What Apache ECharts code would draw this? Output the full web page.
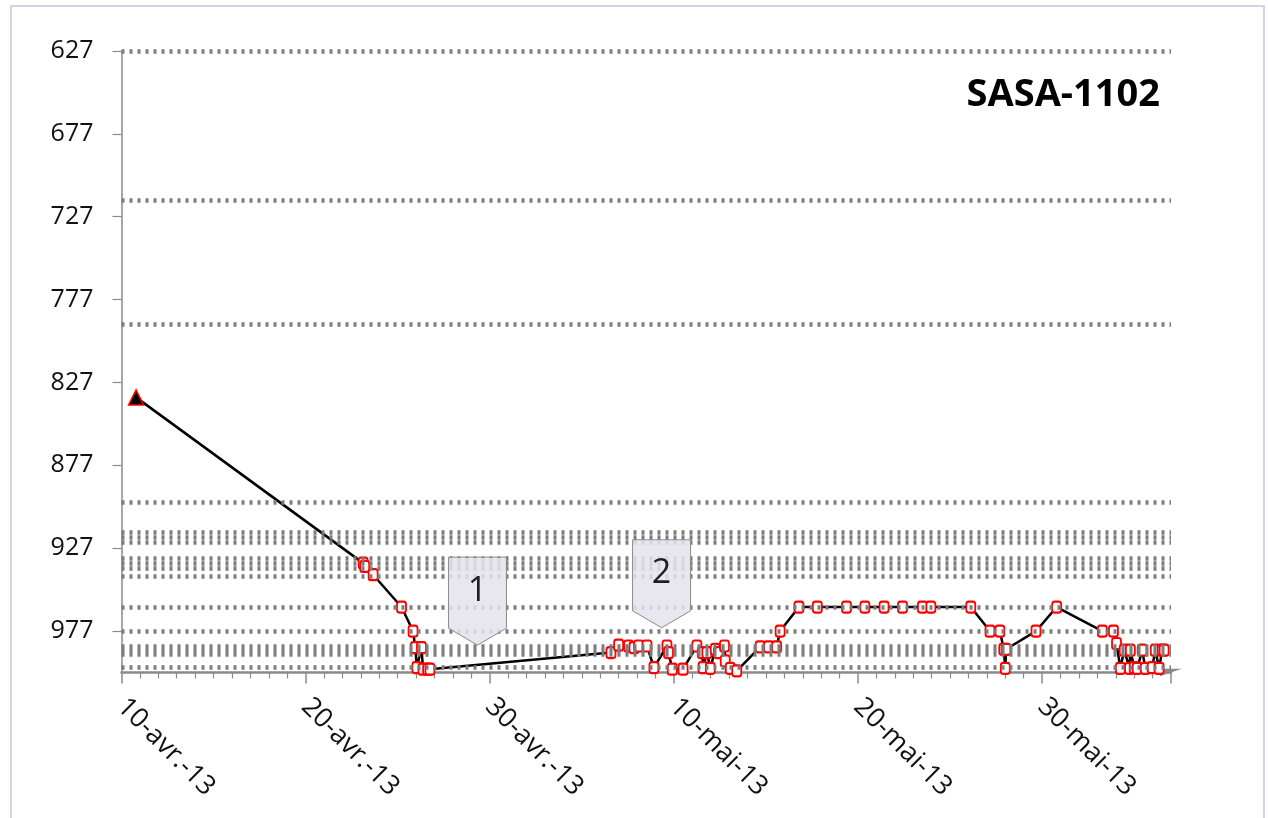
<!DOCTYPE html>
<html>
<head>
<meta charset="utf-8">
<script src="https://cdn.jsdelivr.net/npm/echarts@6/dist/echarts.min.js"></script>
<style>
html,body{margin:0;padding:0;background:#fff;}
#chart{width:1268px;height:818px;}
</style>
</head>
<body>
<div id="chart"></div>
<script>
// ---- data ----
const title = 'SASA-1102';
const dates = [
 '2013-04-10 19:00','2013-04-23 03:00','2013-04-23 05:00','2013-04-23 16:00','2013-04-25 05:00',
 '2013-04-25 20:00','2013-04-25 23:00','2013-04-26 01:00','2013-04-26 07:00','2013-04-26 09:00',
 '2013-04-26 15:00','2013-04-26 18:00',
 '2013-05-06 14:00','2013-05-07 00:00','2013-05-07 13:00','2013-05-07 20:00','2013-05-08 02:00',
 '2013-05-08 13:00','2013-05-08 22:00','2013-05-09 15:00','2013-05-09 17:00','2013-05-09 22:00',
 '2013-05-10 12:00','2013-05-11 06:00','2013-05-11 13:00','2013-05-11 14:00','2013-05-11 19:00',
 '2013-05-11 23:30','2013-05-12 06:00','2013-05-12 10:00','2013-05-12 18:00','2013-05-12 19:00',
 '2013-05-13 01:30','2013-05-13 10:00',
 '2013-05-14 16:30','2013-05-15 03:30','2013-05-15 14:00','2013-05-15 18:30','2013-05-16 19:00',
 '2013-05-17 19:00','2013-05-19 09:00','2013-05-20 09:00','2013-05-21 10:00','2013-05-22 10:00',
 '2013-05-23 12:00','2013-05-23 23:00','2013-05-26 03:00','2013-05-27 04:00','2013-05-27 17:00',
 '2013-05-27 22:00','2013-05-28 00:00','2013-05-28 01:00','2013-05-29 16:00','2013-05-30 19:00',
 '2013-06-02 06:30','2013-06-02 21:00','2013-06-03 01:00','2013-06-03 06:00','2013-06-03 11:00',
 '2013-06-03 18:00','2013-06-03 19:00','2013-06-04 00:00','2013-06-04 04:00','2013-06-04 10:30',
 '2013-06-04 14:30','2013-06-04 23:30','2013-06-05 03:30','2013-06-05 08:30','2013-06-05 12:30',
 '2013-06-05 15:00'
];
const values = [
 836, 936, 938, 943, 962.5,
 977, 987, 999, 987, 1000,
 1000, 1000,
 990, 985.5, 986, 987, 986,
 986, 999, 986, 990, 1000,
 1000, 986, 990, 999, 990,
 999.5, 988, 990, 986, 995,
 999.5, 1001,
 986.5, 986.5, 986.5, 977, 962.5,
 962.5, 962.5, 962.5, 962.5, 962.5,
 962.5, 962.5, 962.5, 977, 977,
 988, 999.5, 988, 977, 962.5,
 977, 977, 984.5, 999.5, 988.5,
 999.5, 988.5, 999, 999.5, 988.5,
 999.5, 999, 988.5, 999.5, 988.5,
 988.5
];
const levels = [627, 717, 792, 899, 917.5, 920.5, 923.5, 933, 936, 939, 944, 962.5, 977, 986, 988.5, 991, 999];
const calloutLabels = ['1', '2'];
const calloutDates = ['2013-04-29 08:00', '2013-05-09 08:00'];
const calloutValues = [985.5, 975];
const xStart = '2013-04-10 00:00';
const xEnd = '2013-06-06 00:00';
const yMin = 627, yMax = 1002, yStep = 50;
const monthNames = ['janv.','févr.','mars','avr.','mai','juin','juil.','août','sept.','oct.','nov.','déc.'];

// ---- helpers ----
const DAY = 86400000;
const toTs = s => Date.parse(s.replace(' ', 'T') + ':00Z');
const fmtDate = v => {
  const d = new Date(v);
  return d.getUTCDate() + '-' + monthNames[d.getUTCMonth()] + '-' + String(d.getUTCFullYear()).slice(2);
};
const FONT = 'Open Sans';
const dotStyle = { type: [3, 5], width: 4.5, color: '#7c7c7c', opacity: 1 };

const lineData = dates.map((d, i) => {
  const item = { value: [toTs(d), values[i]] };
  if (i === 0) {
    item.symbol = 'triangle';
    item.symbolSize = 15;
    item.itemStyle = { color: '#000', borderColor: '#ff0000', borderWidth: 1.5 };
  }
  return item;
});

const chart = echarts.init(document.getElementById('chart'), null, { renderer: 'canvas' });
chart.setOption({
  animation: false,
  backgroundColor: '#fff',
  title: {
    text: title, right: 103, top: 71,
    textStyle: { fontFamily: FONT, fontSize: 38, fontWeight: 'bold', color: '#000' }
  },
  grid: { left: 121.5, right: 97, top: 51, bottom: 145.5, containLabel: false },
  xAxis: {
    type: 'value',
    min: toTs(xStart), max: toTs(xEnd), interval: 10 * DAY,
    axisLine: {
      show: true, lineStyle: { color: '#8a8a8a', width: 2.5 },
      symbol: ['none', 'path://M0,0 L10,30 L0,30'], symbolSize: [9, 22], symbolOffset: [0, 0]
    },
    axisTick: { show: true, length: 11, lineStyle: { color: '#8a8a8a', width: 1.5 } },
    minorTick: { show: true, splitNumber: 10, length: 6, lineStyle: { color: '#8a8a8a', width: 1.2 } },
    splitLine: { show: false },
    axisLabel: {
      rotate: -45, margin: 30, showMaxLabel: false,
      fontFamily: FONT, fontSize: 27, color: '#111',
      formatter: v => fmtDate(v)
    }
  },
  yAxis: {
    type: 'value', inverse: true,
    min: yMin, max: yMax, interval: yStep,
    axisLine: { show: true, lineStyle: { color: '#8a8a8a', width: 1.5 } },
    axisTick: { show: true, length: 9, lineStyle: { color: '#8a8a8a', width: 1.2 } },
    splitLine: { show: false },
    axisLabel: {
      margin: 28, showMaxLabel: false,
      fontFamily: FONT, fontSize: 25, color: '#111'
    }
  },
  series: [
    {
      type: 'line', data: [], z: 1, silent: true,
      markLine: {
        silent: true, symbol: ['none', 'none'], animation: false,
        label: { show: false },
        lineStyle: dotStyle,
        emphasis: { disabled: true },
        data: levels.map(v => ({ yAxis: v, lineStyle: dotStyle }))
      }
    },
    {
      type: 'line', z: 3,
      data: lineData,
      symbol: 'emptyRoundRect', symbolSize: [9, 11],
      itemStyle: { color: '#ff0000', borderColor: '#ff0000', borderWidth: 3 },
      lineStyle: { color: '#000', width: 2.5 }
    },
    {
      type: 'custom', z: 5, silent: true,
      data: calloutDates.map((d, i) => [toTs(d), calloutValues[i], calloutLabels[i]]),
      renderItem: (params, api) => {
        const p = api.coord([api.value(0), api.value(1)]);
        const w = 58, hTip = 17, h = 88;
        const x0 = p[0] - w / 2, x1 = p[0] + w / 2, yTop = p[1] - h, ySh = p[1] - hTip;
        return {
          type: 'group',
          children: [
            {
              type: 'polygon',
              shape: { points: [[x0, yTop], [x1, yTop], [x1, ySh], [p[0], p[1]], [x0, ySh]] },
              style: { fill: 'rgba(228,226,236,0.86)', stroke: '#8a8a8a', lineWidth: 1 }
            },
            {
              type: 'text',
              style: {
                text: calloutLabels[params.dataIndex],
                x: p[0], y: yTop + 34, align: 'center', verticalAlign: 'middle',
                font: '400 34px "' + FONT + '"', fill: '#1e1e1e'
              }
            }
          ]
        };
      }
    }
  ],
  graphic: [
    {
      type: 'rect', silent: true, z: 100,
      shape: { x: 11, y: 6, width: 1253, height: 840 },
      style: { fill: 'none', stroke: '#d6d2e4', lineWidth: 2 }
    }
  ]
});
</script>
</body>
</html>
